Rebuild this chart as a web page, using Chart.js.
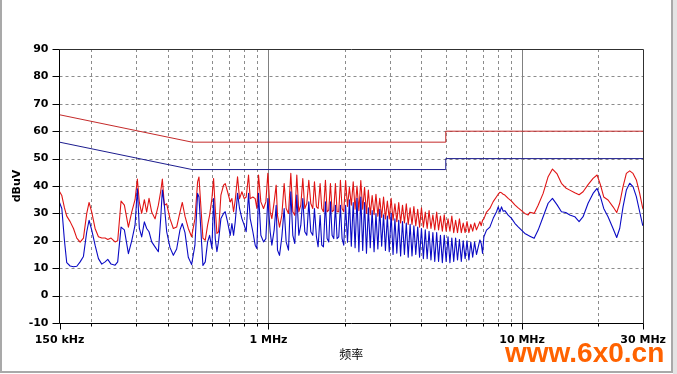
<!DOCTYPE html>
<html><head><meta charset="utf-8">
<script src="https://cdn.jsdelivr.net/npm/chart.js@4.4.1/dist/chart.umd.min.js"></script>
<style>
html,body{margin:0;padding:0;background:#fff;}
#wrap{position:relative;width:677px;height:374px;overflow:hidden;background:#fff;}
#c{position:absolute;left:0;top:0;}
#frame{position:absolute;left:0;top:-4px;width:673px;height:377px;box-sizing:border-box;border:2px solid #a9a9a9;pointer-events:none;}
#side{position:absolute;left:673px;top:0;width:4px;height:374px;background:#e4e4e4;}
#wm{position:absolute;left:505px;top:339px;font:bold 28px "Liberation Sans",Arial,sans-serif;color:#ff6200;line-height:1;white-space:nowrap;}
</style></head>
<body>
<div id="wrap">
<canvas id="c" width="677" height="374"></canvas>
<div id="frame"></div><div id="side"></div>
<div id="wm">www.6x0.cn</div>
</div>
<script>
// Frequencies (MHz) of the measured traces
const freqMHz = [
0.150,0.1532,0.1569,0.1602,0.1652,0.1703,0.1755,0.1809,0.1864,0.1921,
0.1962,0.2010,0.2072,0.2136,0.2202,0.2269,0.2325,0.2395,0.2484,0.2544,
0.2623,0.2703,0.2804,0.2889,0.2978,0.3041,0.3097,0.3163,0.3241,0.3310,
0.3381,0.3464,0.3571,0.3680,0.3758,0.3816,0.3886,0.3969,0.4091,0.4216,
0.4345,0.4478,0.4573,0.4686,0.4829,0.4977,0.5129,0.5255,0.5320,
0.5515,0.5633,0.5754,0.5859,0.5984,0.6075,0.6168,0.6262,0.6357,0.6493,
0.6652,0.6753,0.6898,0.7066,0.7174,0.7283,0.7394,0.7552,0.7690,0.7855,
0.8023,0.8169,0.8344,0.8471,0.8678,0.8864,0.8999,0.9136,0.9331,0.9560,
0.9764,0.9942,1.0155,1.0310,1.0530,1.0723,1.0853,1.1052,1.1288,1.1529,
1.1740,1.1991,1.2247,1.2472,1.2700,1.2932,1.3169,1.3410,1.3655,1.3905,
1.4160,1.4419,1.4682,1.4951,1.5179,1.5456,1.5692,1.5979,1.6222,1.6469,
1.6770,1.7026,1.7285,1.7548,1.7815,1.8086,1.8362,1.8641,1.8925,1.9213,
1.9506,1.9803,
2.014,2.049,2.085,2.121,2.158,2.195,2.233,2.272,2.312,2.352,
2.392,2.434,2.476,2.519,2.563,2.608,2.653,2.699,2.746,2.794,
2.842,2.891,2.942,2.993,3.045,3.098,3.151,3.206,3.262,3.318,
3.376,3.435,3.494,3.555,3.617,3.680,3.743,3.808,3.875,3.942,
4.010,4.080,4.151,4.223,4.296,4.371,4.447,4.524,4.603,4.683,
4.764,4.847,4.931,5.016,5.103,5.192,5.282,5.374,5.467,5.562,
5.659,5.757,5.857,5.959,6.062,6.168,6.275,6.384,6.495,6.607,
6.815,6.898,6.982,7.066,7.239,7.461,7.690,7.926,8.047,8.170,
8.294,8.420,8.548,8.811,9.081,9.360,9.647,9.943,10.248,10.562,
10.723,11.152,11.564,12.101,12.662,13.169,13.738,14.288,14.861,15.410,
16.124,16.770,17.390,18.196,19.040,19.743,20.349,20.973,21.813,22.825,
23.597,24.247,24.991,25.758,26.548,27.362,28.202,29.067,29.868,30.0
];
// Red trace (dBuV)
const redTrace = [
38,36.5,32,29,27,24.5,21,19.5,21,30,
34,30.5,24.5,21.5,21,21,20.5,21,19.6,20,
34.5,33,25,30.5,35,42.5,34,30,35,30.5,
35.5,30.5,28,33,38,42.5,33,33.5,28,24.5,
25,30.5,34,29,24.5,21.5,28,41.5,43.3,
21,20.2,25.7,29.3,35.4,42.7,31.8,22.7,23.3,36.7,
40.3,40.9,37.9,34.2,35.4,30.6,34.8,43.4,35.4,37.9,
35.4,36,44,35.4,36,35.4,31.8,44,34.2,31.8,
34.2,44.6,30.6,28.1,34.2,40.3,29.3,25,29.3,40.9,
31.8,30,44.6,30.6,29.3,44,30.6,33,42.7,31.8,
33.6,42.1,33.6,31.8,41.5,32.4,31.8,40.9,31.8,30.6,
42.1,30.6,31.2,40.9,30.6,31.2,40.9,30.6,30.6,42.1,
31.8,30.6,
42,32.5,39.5,33,41.5,31.5,40,31,42,31.5,
39.5,30,38.5,29.5,36.5,29.5,37,29,35.5,28.5,
36,28,34.5,28,35.5,27.5,33.5,27,34,26.5,
33,26.5,33.5,26,32,26,32.5,25.5,31.5,25,
32,25,30.5,24.5,31,24.5,29.5,24,30.5,24,
29,23.5,29.5,23.5,28,23.5,29,23,27.5,23,
28,23,26.5,23,27,23,26,23.5,26.5,24,
27,25.5,27.5,28,30.5,31.8,34.3,36.1,37,37.7,
37.5,37,36.7,35.5,34.5,33.1,32,31,30,29.4,
30.4,30,33,37.3,43.4,46.2,44.4,41,39.3,38.5,
37.5,36.8,37.9,40.5,42.8,44,40.5,36,34.9,32.4,
30.3,33.7,39.8,44.6,45.5,44.6,42.2,37.3,32,31.5
];
// Blue trace (dBuV)
const blueTrace = [
34,31.8,20,12,10.8,10.5,10.7,12.3,14.3,23.3,
27.5,23.9,18.4,13.5,11.5,12.3,13.2,11.5,11.1,12.3,
25,24,15.3,20,25.7,39,24.5,21.4,26.9,24.5,
23.3,19.6,17.8,16,28,38.5,33,23.3,17.5,14.7,
17,24,26.3,23,14,11.3,18.4,37.3,36,
11,12.3,19.6,22,17.2,35.4,20.8,16,20,28.1,
30,30.6,26.9,22,26.3,22,26.9,37.3,31.8,28.1,
25.7,23.3,37.3,28.1,23.3,18.4,17.2,37.3,22,19.6,
20.8,35.4,23.3,18.4,24,33,16.6,14.7,21.4,31.8,
19.6,16.6,37.9,22,19,36.7,22,25.7,35.4,23.3,
22,34.2,23.3,22,31.8,21.4,17.8,29.3,18.4,17.8,
34.2,20.8,19.6,34.2,22,20.8,33,20.8,21.4,33,
20.8,18.4,
33,19.5,35,18,34,17.5,35.5,16,36,16.5,
34,15.5,32,17.5,31,16,30,17,31.5,18,
29.5,16.5,29,16,30,15,28,15.5,27.5,14.5,
27,15,26.5,14,26,14.5,25.5,15,25,14,
24.5,13.5,24,13.5,23.5,13,23,12.5,23,12.5,
22,12,22,12.5,21.5,12,21,12.5,21,13,
20.5,12.5,20,13.5,20,13,19.5,14,19.5,15,
20.3,19,15.4,21.5,23.9,25,28.2,30.6,32.4,30.5,
32.4,30.8,31,29.4,28.2,26.4,25.1,23.9,22.7,22,
21.7,20.9,23.9,28.8,33.7,35.5,33.1,30.6,30.3,29.4,
28.8,27,28.8,33.7,37.3,39.1,36.1,31.8,28.8,24.5,
21.2,24.5,32.4,38.5,41,39.8,36.1,30.6,25.7,25.5
];
// Limit lines
const limitFreq = [0.15, 0.5, 5, 5, 30];
const qpLimit = [66, 56, 56, 60, 60];
const avLimit = [56, 46, 46, 50, 50];
// Axes
const xTickValues = [0.15, 1, 10, 30];
const xTickLabels = ['150 kHz', '1 MHz', '10 MHz', '30 MHz'];
const xMinorGrid = [0.2,0.3,0.4,0.5,0.6,0.7,0.8,0.9,2,3,4,5,6,7,8,9,20];
const xMajorGrid = [1, 10];
const yGridValues = [0,10,20,30,40,50,60,70,80];
const yTickValues = [-10,0,10,20,30,40,50,60,70,80,90];

const pts = (xs, ys) => xs.map((x, i) => ({x: x, y: ys[i]}));

const gridPlugin = {
  id: 'emiGrid',
  beforeDatasetsDraw(chart) {
    const {ctx, chartArea: a, scales: {x, y}} = chart;
    ctx.save();
    ctx.lineWidth = 1;
    ctx.strokeStyle = '#8c8c8c';
    ctx.setLineDash([3, 3]);
    yGridValues.forEach(v => {
      const py = Math.round(y.getPixelForValue(v)) + 0.5;
      ctx.beginPath(); ctx.moveTo(a.left, py); ctx.lineTo(a.right, py); ctx.stroke();
    });
    xMinorGrid.forEach(v => {
      const px = Math.round(x.getPixelForValue(v)) + 0.5;
      ctx.beginPath(); ctx.moveTo(px, a.top); ctx.lineTo(px, a.bottom); ctx.stroke();
    });
    ctx.setLineDash([]);
    ctx.strokeStyle = '#808080';
    xMajorGrid.forEach(v => {
      const px = Math.round(x.getPixelForValue(v)) + 0.5;
      ctx.beginPath(); ctx.moveTo(px, a.top); ctx.lineTo(px, a.bottom); ctx.stroke();
    });
    ctx.restore();
  },
  afterDatasetsDraw(chart) {
    const {ctx, chartArea: a, scales: {x, y}} = chart;
    ctx.save();
    ctx.lineWidth = 1;
    const L = Math.floor(a.left) + 0.5, R = Math.floor(a.right) + 0.5;
    const T = Math.floor(a.top) + 0.5, B = Math.floor(a.bottom) + 0.5;
    ctx.strokeStyle = '#303030';
    ctx.beginPath(); ctx.moveTo(L, T); ctx.lineTo(R, T); ctx.lineTo(R, B); ctx.stroke();
    ctx.strokeStyle = '#000';
    ctx.beginPath(); ctx.moveTo(L, T); ctx.lineTo(L, B); ctx.lineTo(R, B); ctx.stroke();
    yTickValues.forEach(v => {
      const py = Math.round(y.getPixelForValue(v)) + 0.5;
      ctx.beginPath(); ctx.moveTo(L - 7, py); ctx.lineTo(L, py); ctx.stroke();
    });
    xTickValues.forEach(v => {
      const px = Math.round(x.getPixelForValue(v)) + 0.5;
      ctx.beginPath(); ctx.moveTo(px, B); ctx.lineTo(px, B + 6); ctx.stroke();
    });
    xMinorGrid.forEach(v => {
      const px = Math.round(x.getPixelForValue(v)) + 0.5;
      ctx.beginPath(); ctx.moveTo(px, B); ctx.lineTo(px, B + 3); ctx.stroke();
    });
    ctx.restore();
  }
};

Chart.defaults.font.family = '"DejaVu Sans", sans-serif';
Chart.defaults.color = '#000';

new Chart(document.getElementById('c'), {
  type: 'line',
  data: {
    datasets: [
      {label: 'QP limit', data: pts(limitFreq, qpLimit), borderColor: '#c42a2a', borderWidth: 1, pointRadius: 0, order: 0},
      {label: 'AV limit', data: pts(limitFreq, avLimit), borderColor: '#1c1c8e', borderWidth: 1, pointRadius: 0, order: 0},
      {label: 'Blue', data: pts(freqMHz, blueTrace), borderColor: '#0a0ac4', borderWidth: 1.1, pointRadius: 0, order: 1, borderJoinStyle: 'round'},
      {label: 'Red', data: pts(freqMHz, redTrace), borderColor: '#e01414', borderWidth: 1.1, pointRadius: 0, order: 2, borderJoinStyle: 'round'}
    ]
  },
  options: {
    responsive: false,
    animation: false,
    layout: {padding: {left: 0, top: 49, right: 33.7, bottom: 0}},
    plugins: {legend: {display: false}, tooltip: {enabled: false}},
    elements: {line: {tension: 0}},
    scales: {
      x: {
        type: 'logarithmic', min: 0.15, max: 30,
        grid: {display: false, drawTicks: false},
        border: {display: false},
        afterBuildTicks: s => { s.ticks = xTickValues.map(v => ({value: v})); },
        afterFit: s => { s.height = 51; },
        ticks: {autoSkip: false, maxRotation: 0, minRotation: 0, padding: 11,
          font: {size: 11, weight: 'bold'}, color: '#000',
          callback: (v, i) => xTickLabels[i]},
        title: {display: true, text: '频率', color: '#000',
          font: {family: '"Noto Sans CJK SC", sans-serif', size: 12, weight: 'normal'},
          padding: {top: 0, bottom: 12}}
      },
      y: {
        type: 'linear', min: -10, max: 90,
        grid: {display: false, drawTicks: false},
        border: {display: false},
        afterFit: s => { s.width = 59.5; },
        ticks: {stepSize: 10, padding: 11, font: {size: 11, weight: 'bold'}, color: '#000'},
        title: {display: true, text: 'dBuV', color: '#000',
          font: {size: 11, weight: 'bold'}, padding: {top: 11, bottom: 0}}
      }
    }
  },
  plugins: [gridPlugin]
});
</script>
</body></html>
